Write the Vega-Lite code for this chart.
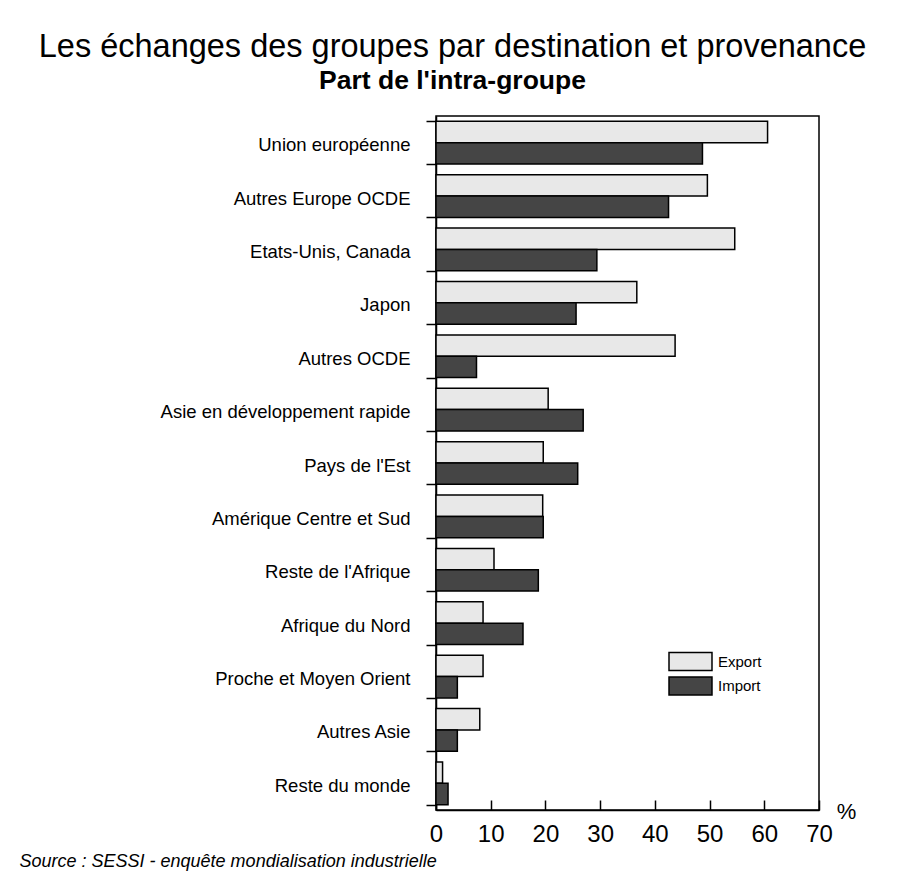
{
  "$schema": "https://vega.github.io/schema/vega-lite/v6.json",
  "width": 383,
  "height": 694,
  "autosize": {"type": "none"},
  "padding": {"left": 436, "top": 116, "right": 81, "bottom": 63},
  "background": "white",
  "title": {
    "text": "Les échanges des groupes par destination et provenance",
    "subtitle": "Part de l'intra-groupe",
    "anchor": "middle",
    "frame": "group",
    "dx": -175,
    "offset": 13,
    "font": "Liberation Sans",
    "fontSize": 32.5,
    "fontWeight": "normal",
    "color": "black",
    "subtitleFont": "Liberation Sans",
    "subtitleFontSize": 26.5,
    "subtitleFontWeight": "bold",
    "subtitleColor": "black",
    "subtitlePadding": 4
  },
  "data": {
    "values": [
      {"region": "Union européenne", "flux": "Export", "value": 60.6},
      {"region": "Union européenne", "flux": "Import", "value": 48.7},
      {"region": "Autres Europe OCDE", "flux": "Export", "value": 49.6},
      {"region": "Autres Europe OCDE", "flux": "Import", "value": 42.5},
      {"region": "Etats-Unis, Canada", "flux": "Export", "value": 54.6},
      {"region": "Etats-Unis, Canada", "flux": "Import", "value": 29.4},
      {"region": "Japon", "flux": "Export", "value": 36.7},
      {"region": "Japon", "flux": "Import", "value": 25.6},
      {"region": "Autres OCDE", "flux": "Export", "value": 43.7},
      {"region": "Autres OCDE", "flux": "Import", "value": 7.4},
      {"region": "Asie en développement rapide", "flux": "Export", "value": 20.5},
      {"region": "Asie en développement rapide", "flux": "Import", "value": 26.9},
      {"region": "Pays de l'Est", "flux": "Export", "value": 19.6},
      {"region": "Pays de l'Est", "flux": "Import", "value": 25.9},
      {"region": "Amérique Centre et Sud", "flux": "Export", "value": 19.5},
      {"region": "Amérique Centre et Sud", "flux": "Import", "value": 19.6},
      {"region": "Reste de l'Afrique", "flux": "Export", "value": 10.6},
      {"region": "Reste de l'Afrique", "flux": "Import", "value": 18.7},
      {"region": "Afrique du Nord", "flux": "Export", "value": 8.6},
      {"region": "Afrique du Nord", "flux": "Import", "value": 15.9},
      {"region": "Proche et Moyen Orient", "flux": "Export", "value": 8.6},
      {"region": "Proche et Moyen Orient", "flux": "Import", "value": 3.9},
      {"region": "Autres Asie", "flux": "Export", "value": 8.0},
      {"region": "Autres Asie", "flux": "Import", "value": 3.9},
      {"region": "Reste du monde", "flux": "Export", "value": 1.2},
      {"region": "Reste du monde", "flux": "Import", "value": 2.2}
    ]
  },
  "mark": {"type": "bar", "stroke": "black", "strokeWidth": 1.5},
  "encoding": {
    "y": {
      "field": "region",
      "type": "nominal",
      "sort": ["Union européenne", "Autres Europe OCDE", "Etats-Unis, Canada", "Japon", "Autres OCDE", "Asie en développement rapide", "Pays de l'Est", "Amérique Centre et Sud", "Reste de l'Afrique", "Afrique du Nord", "Proche et Moyen Orient", "Autres Asie", "Reste du monde"],
      "scale": {"paddingInner": 0.2, "paddingOuter": 0.1},
      "axis": {
        "title": "Source : SESSI - enquête mondialisation industrielle",
        "titleAngle": 0,
        "titleX": -417,
        "titleY": 745,
        "titleAlign": "left",
        "titleBaseline": "middle",
        "titleFont": "Liberation Sans",
        "titleFontStyle": "italic",
        "titleFontWeight": "normal",
        "titleFontSize": 18,
        "titleColor": "black",
        "labelFont": "Liberation Sans",
        "labelFontSize": 18.5,
        "labelColor": "black",
        "labelPadding": 16,
        "labelOffset": 2,
        "labelLimit": 400,
        "tickBand": "extent",
        "tickSize": 10,
        "tickColor": "black",
        "tickWidth": 1.5,
        "domainColor": "black",
        "domainWidth": 1.5
      }
    },
    "yOffset": {"field": "flux", "sort": ["Export", "Import"]},
    "x": {
      "field": "value",
      "type": "quantitative",
      "scale": {"domain": [0, 70], "nice": false},
      "axis": {
        "title": "%",
        "titleX": 410,
        "titleY": 1,
        "titleAlign": "center",
        "titleBaseline": "middle",
        "titleFont": "Liberation Sans",
        "titleFontSize": 22,
        "titleFontWeight": "normal",
        "titleColor": "black",
        "values": [0, 10, 20, 30, 40, 50, 60, 70],
        "labelFont": "Liberation Sans",
        "labelFontSize": 24,
        "labelColor": "black",
        "labelFlush": false,
        "labelPadding": 22,
        "tickSize": -10,
        "tickColor": "black",
        "tickWidth": 1.5,
        "domainColor": "black",
        "domainWidth": 1.5,
        "grid": false
      }
    },
    "color": {
      "field": "flux",
      "type": "nominal",
      "scale": {"domain": ["Export", "Import"], "range": ["#e8e8e8", "#454545"]},
      "legend": {
        "orient": "none",
        "legendX": 243,
        "legendY": 534,
        "title": null,
        "padding": 0,
        "symbolType": "M-2,-0.84H2V0.84H-2Z",
        "symbolSize": 462,
        "symbolStrokeColor": "black",
        "symbolStrokeWidth": 1.5,
        "symbolOpacity": 1,
        "labelFont": "Liberation Sans",
        "labelFontSize": 15,
        "labelColor": "black",
        "labelOffset": 16,
        "rowPadding": -0.5
      }
    }
  },
  "config": {"view": {"stroke": "black", "strokeWidth": 1.5}}
}
